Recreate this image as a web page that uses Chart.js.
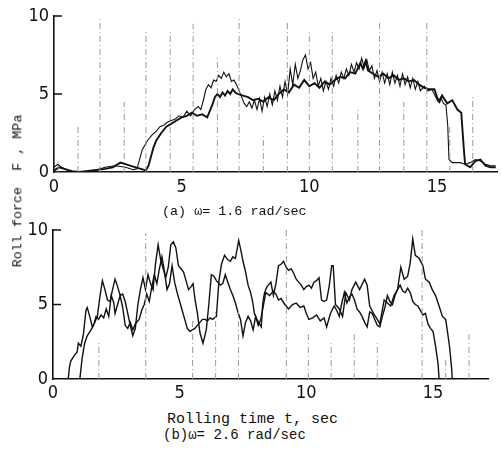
<!DOCTYPE html>
<html>
<head>
<meta charset="utf-8">
<script src="https://cdn.jsdelivr.net/npm/chart.js@4.4.1/dist/chart.umd.min.js"></script>
<style>
  body { margin: 0; background: #fff; }
  #wrap { position: relative; width: 501px; height: 454px; overflow: hidden; background: #fff; }
  canvas { position: absolute; left: 0; }
  .txt { position: absolute; font-family: "Liberation Mono", "DejaVu Sans Mono", monospace; color: #111; white-space: pre; line-height: 1; }
</style>
</head>
<body>
<div id="wrap">
  <canvas id="topChart" width="501" height="200" style="top:0"></canvas>
  <canvas id="bottomChart" width="501" height="210" style="top:200px"></canvas>
  <div class="txt" id="ytitle" style="font-size:13.4px; left:18px; top:191px; transform: translate(-50%, -50%) rotate(-90deg);">Roll force  F , MPa</div>
  <div class="txt" style="font-size:13.4px; left:162px; top:205px;">(a) ω= 1.6 rad/sec</div>
  <div class="txt" style="font-size:15px; left:167px; top:412px;">Rolling time t, sec</div>
  <div class="txt" style="font-size:14px; left:163px; top:428px;">(b)ω= 2.6 rad/sec</div>
</div>
<script>
// Tick labels
const xTicks = [0, 5, 10, 15];
const yTicks = [0, 5, 10];

// (a) omega = 1.6 rad/sec : thick trace
const topTimeA = [0, 0.2, 0.4, 0.7, 1.0, 1.5, 2.0, 2.3, 2.6, 2.8, 3.1, 3.4, 3.6, 3.7, 3.8, 3.9, 4.0, 4.2, 4.4, 4.6, 4.8, 5.0, 5.2, 5.4, 5.6, 5.8, 6.0, 6.1, 6.2, 6.3, 6.4, 6.5, 6.6, 6.7, 6.8, 6.9, 7.0, 7.1, 7.2, 7.4, 7.6, 7.8, 8.0, 8.2, 8.4, 8.6, 8.8, 9.0, 9.2, 9.4, 9.6, 9.8, 10.0, 10.2, 10.4, 10.6, 10.8, 11.0, 11.2, 11.4, 11.6, 11.8, 12.0, 12.1, 12.2, 12.3, 12.5, 12.7, 12.9, 13.1, 13.3, 13.5, 13.7, 13.9, 14.1, 14.3, 14.5, 14.7, 14.9, 15.0, 15.1, 15.2, 15.4, 15.6, 15.8, 15.95, 16.05, 16.1, 16.3, 16.5, 16.7, 16.9, 17.1, 17.3];
const topForceA = [0.1, 0.3, 0.2, 0.05, 0, 0.1, 0.2, 0.3, 0.6, 0.5, 0.35, 0.2, 0.1, 0.4, 1.0, 1.6, 2.0, 2.5, 2.9, 3.1, 3.3, 3.5, 3.6, 3.8, 3.6, 3.7, 3.5, 3.9, 4.3, 4.8, 5.0, 4.8, 5.1, 4.9, 5.2, 5.0, 5.3, 5.1, 5.0, 4.9, 4.8, 4.6, 4.7, 4.5, 4.8, 4.6, 5.0, 5.3, 5.1, 5.6, 5.4, 5.9, 5.5, 5.7, 5.4, 5.8, 5.6, 5.9, 6.1, 6.0, 6.4, 6.3, 7.0, 6.6, 7.1, 6.5, 6.3, 6.1, 6.3, 6.0, 6.2, 5.9, 6.0, 5.8, 5.9, 5.6, 5.4, 5.3, 5.3, 4.8, 4.5, 4.9, 4.4, 4.6, 4.0, 3.8, 1.5, 0.5, 0.3, 0.7, 0.8, 0.4, 0.3, 0.3];

// (a) omega = 1.6 rad/sec : thin trace
const topTimeB = [0, 0.15, 0.3, 0.5, 0.8, 1.2, 1.6, 2.0, 2.4, 2.8, 3.1, 3.25, 3.35, 3.45, 3.55, 3.7, 3.85, 4.0, 4.15, 4.3, 4.45, 4.6, 4.75, 4.9, 5.05, 5.2, 5.35, 5.5, 5.65, 5.75, 5.85, 5.95, 6.05, 6.15, 6.25, 6.35, 6.45, 6.55, 6.65, 6.75, 6.85, 6.95, 7.05, 7.15, 7.25, 7.35, 7.45, 7.55, 7.65, 7.75, 7.85, 7.95, 8.05, 8.15, 8.25, 8.35, 8.45, 8.55, 8.65, 8.75, 8.85, 8.95, 9.05, 9.15, 9.25, 9.35, 9.45, 9.55, 9.65, 9.75, 9.85, 9.95, 10.05, 10.15, 10.25, 10.35, 10.45, 10.55, 10.65, 10.75, 10.85, 10.95, 11.05, 11.15, 11.25, 11.35, 11.45, 11.55, 11.65, 11.75, 11.85, 11.95, 12.05, 12.15, 12.25, 12.35, 12.45, 12.55, 12.65, 12.75, 12.85, 12.95, 13.05, 13.15, 13.25, 13.35, 13.45, 13.55, 13.65, 13.75, 13.85, 13.95, 14.05, 14.15, 14.25, 14.35, 14.5, 14.65, 14.8, 14.95, 15.05, 15.15, 15.25, 15.35, 15.42, 15.47, 15.6, 15.9, 16.1, 16.3, 16.5, 16.7, 16.9, 17.1, 17.3];
const topForceB = [0.3, 0.5, 0.3, 0.15, 0, 0, 0.1, 0.3, 0.4, 0.3, 0.15, 0.2, 0.8, 1.4, 1.7, 2.1, 2.4, 2.6, 2.9, 3.0, 3.2, 3.3, 3.4, 3.6, 3.5, 3.9, 3.6, 4.0, 4.2, 4.0, 4.6, 5.3, 5.6, 5.4, 5.9, 5.8, 6.2, 6.0, 6.4, 6.1, 6.3, 5.8, 5.9, 5.6, 5.2, 4.8, 4.4, 4.2, 4.5, 4.1, 4.6, 4.0, 4.7, 3.9, 4.8, 4.2, 5.0, 4.3, 5.2, 4.6, 5.5, 4.8, 5.8, 5.0, 6.6, 5.6, 6.9, 6.0, 6.5, 7.2, 7.5, 6.6, 7.0, 6.0, 6.4, 5.5, 6.0, 5.2, 5.8, 5.3, 6.0, 5.5, 6.2, 5.7, 6.4, 6.0, 6.6, 6.2, 6.9, 6.4, 7.0, 6.6, 7.3, 6.7, 7.2, 6.5, 6.8, 6.0, 6.5, 5.8, 6.4, 5.7, 6.3, 5.6, 6.4, 5.7, 6.2, 5.5, 6.3, 5.6, 6.1, 5.4, 6.0, 5.3, 5.8, 5.2, 5.5, 5.2, 5.3, 4.8, 4.5, 4.8, 4.4, 4.3, 3.0, 0.8, 0.6, 0.6, 0.5, 0.6, 0.8, 0.7, 0.5, 0.4, 0.4];

// (b) omega = 2.6 rad/sec : trace starting first
const botTimeC = [0.6, 0.65, 0.7, 0.85, 0.95, 1.0, 1.1, 1.2, 1.3, 1.35, 1.45, 1.55, 1.65, 1.75, 1.85, 1.95, 2.05, 2.15, 2.25, 2.35, 2.45, 2.55, 2.65, 2.75, 2.85, 2.95, 3.05, 3.15, 3.25, 3.35, 3.45, 3.55, 3.65, 3.75, 3.85, 3.95, 4.05, 4.15, 4.25, 4.35, 4.45, 4.55, 4.65, 4.75, 4.85, 4.95, 5.05, 5.15, 5.25, 5.35, 5.45, 5.53, 5.6, 5.7, 5.8, 5.92, 6.05, 6.15, 6.25, 6.35, 6.45, 6.6, 6.7, 6.8, 6.9, 7.0, 7.1, 7.2, 7.3, 7.4, 7.5, 7.6, 7.7, 7.8, 7.9, 8.0, 8.1, 8.2, 8.28, 8.4, 8.55, 8.7, 8.8, 8.9, 9.0, 9.15, 9.3, 9.45, 9.6, 9.75, 9.9, 10.0, 10.1, 10.25, 10.4, 10.55, 10.7, 10.8, 10.95, 11.1, 11.2, 11.3, 11.4, 11.5, 11.6, 11.7, 11.8, 11.9, 12.0, 12.1, 12.2, 12.3, 12.4, 12.5, 12.6, 12.7, 12.8, 12.9, 13.0, 13.1, 13.2, 13.3, 13.4, 13.5, 13.6, 13.7, 13.8, 13.9, 14.0, 14.1, 14.2, 14.3, 14.4, 14.5, 14.6, 14.7, 14.8, 14.9, 15.0, 15.1, 15.2, 15.24];
const botForceC = [0, 0.8, 1.2, 1.6, 1.8, 2.4, 2.2, 3.0, 4.6, 4.8, 4.2, 3.5, 3.8, 4.2, 5.5, 6.6, 6.0, 5.3, 5.2, 6.0, 6.7, 6.2, 5.6, 5.7, 5.2, 4.4, 3.6, 2.9, 3.4, 5.0, 6.0, 6.8, 6.0, 7.0, 6.4, 6.0, 7.8, 9.0, 8.0, 7.4, 6.8, 7.5, 9.0, 9.2, 8.8, 7.6, 7.4, 7.2, 6.6, 6.0, 6.2, 6.4, 5.4, 4.4, 3.1, 2.4, 3.3, 5.0, 7.0, 6.9, 6.6, 6.3, 6.4, 7.0, 6.5, 6.0, 5.6, 5.1, 4.5, 4.0, 2.9, 3.8, 4.2, 3.9, 3.3, 4.2, 3.6, 4.0, 4.7, 5.8, 5.6, 5.9, 5.7, 5.3, 5.4, 5.0, 4.7, 5.0, 5.1, 4.8, 4.9, 4.4, 4.0, 4.1, 4.3, 3.9, 4.1, 3.5, 4.4, 4.9, 4.6, 4.2, 5.1, 5.8, 5.1, 5.5, 5.7, 5.3, 4.7, 4.5, 4.2, 3.8, 3.5, 4.5, 4.4, 4.0, 3.6, 3.5, 4.2, 4.8, 5.6, 5.2, 5.0, 5.6, 6.0, 6.3, 5.9, 5.8, 6.1, 5.8, 5.2, 5.0, 4.9, 4.6, 4.3, 4.4, 3.7, 3.4, 3.2, 2.2, 1.0, 0];

// (b) omega = 2.6 rad/sec : trace starting second
const botTimeD = [1.06, 1.15, 1.25, 1.35, 1.5, 1.6, 1.7, 1.8, 1.9, 2.0, 2.1, 2.2, 2.3, 2.4, 2.45, 2.55, 2.65, 2.75, 2.85, 2.95, 3.05, 3.15, 3.25, 3.4, 3.5, 3.6, 3.7, 3.8, 3.9, 4.0, 4.1, 4.2, 4.3, 4.4, 4.5, 4.6, 4.7, 4.8, 4.9, 5.0, 5.1, 5.2, 5.3, 5.4, 5.5, 5.6, 5.7, 5.8, 5.9, 6.0, 6.1, 6.2, 6.3, 6.45, 6.55, 6.65, 6.77, 6.9, 7.0, 7.1, 7.2, 7.33, 7.42, 7.5, 7.6, 7.7, 7.8, 7.88, 7.95, 8.05, 8.15, 8.22, 8.28, 8.35, 8.45, 8.6, 8.7, 8.8, 8.9, 9.0, 9.1, 9.2, 9.3, 9.4, 9.5, 9.6, 9.7, 9.8, 9.9, 10.0, 10.1, 10.2, 10.3, 10.4, 10.5, 10.6, 10.7, 10.8, 10.9, 11.0, 11.06, 11.15, 11.3, 11.43, 11.56, 11.7, 11.8, 11.95, 12.1, 12.3, 12.4, 12.5, 12.65, 12.8, 12.9, 13.07, 13.2, 13.33, 13.46, 13.6, 13.73, 13.86, 14.0, 14.1, 14.2, 14.3, 14.45, 14.6, 14.7, 14.85, 14.97, 15.1, 15.2, 15.37, 15.5, 15.56, 15.65, 15.73, 15.76];
const botForceD = [0, 1.4, 2.4, 2.9, 3.3, 3.6, 4.2, 4.0, 4.3, 4.1, 4.7, 4.2, 5.6, 5.1, 4.4, 5.0, 5.6, 4.8, 3.6, 3.4, 3.8, 3.3, 3.7, 4.0, 4.6, 5.0, 5.7, 5.2, 6.2, 7.0, 6.4, 7.4, 8.2, 7.2, 6.0, 6.4, 7.6, 6.5, 5.8, 5.2, 4.6, 4.0, 3.4, 3.2, 3.3, 3.4, 3.6, 3.8, 4.0, 4.0, 3.9, 4.1, 4.0, 4.2, 6.6, 7.7, 8.3, 8.0, 7.9, 8.2, 8.1, 9.3, 8.6, 7.9, 7.2, 6.3, 5.8, 5.2, 4.4, 4.0, 3.7, 3.5, 5.1, 5.8, 6.2, 6.5, 5.6, 6.4, 7.6, 7.7, 7.9, 7.5, 7.3, 7.4, 7.1, 6.7, 6.5, 6.3, 6.0, 6.2, 6.3, 6.1, 6.5, 6.6, 6.8, 5.3, 5.2, 5.3, 6.2, 7.6, 7.6, 5.0, 4.7, 4.2, 5.8, 5.3, 6.0, 6.5, 6.0, 6.7, 6.3, 4.9, 4.4, 4.0, 3.7, 5.3, 5.1, 4.9, 5.6, 6.0, 7.5, 6.7, 6.9, 7.8, 9.4, 8.3, 8.1, 7.6, 6.7, 6.5, 6.0, 5.6, 5.1, 4.2, 4.0, 3.3, 2.2, 0.8, 0];

// faint vertical dash-dot marks of the recorder paper
const markTopT = [0.16, 0.94, 1.8, 2.75, 3.6, 4.55, 5.45, 6.4, 7.25, 8.2, 9.14, 10.0, 10.9, 11.9, 12.75, 13.7, 14.6, 15.5, 16.4];
const markTopH = [0.7, 3.0, 9.8, 4.5, 9.0, 9.0, 9.5, 7.5, 10.0, 2.3, 9.6, 9.0, 9.0, 4.0, 9.6, 4.5, 9.6, 3.0, 5.0];
const markBotT = [1.81, 3.66, 5.51, 6.42, 7.32, 9.21, 10.08, 10.98, 11.89, 12.8, 14.57, 15.5, 16.42];
const markBotH = [2.5, 9.8, 4.0, 4.5, 4.5, 10.0, 3.0, 2.5, 3.0, 2.5, 10.0, 1.5, 3.0];

function toPoints(ts, vs) {
  return ts.map((t, i) => ({ x: t, y: vs[i] }));
}

function markPoints(ts, hs) {
  const pts = [];
  ts.forEach((t, i) => {
    pts.push({ x: t, y: 0 }, { x: t, y: hs[i] }, { x: t, y: null });
  });
  return pts;
}

// short tick marks pointing into the plot, like the original
const inwardTicks = {
  id: 'inwardTicks',
  afterDraw(chart) {
    const y = chart.scales.y;
    const ctx = chart.ctx;
    ctx.save();
    ctx.strokeStyle = '#111';
    ctx.lineWidth = 1.5;
    yTicks.forEach(v => {
      if (v === 0) return;
      const py = y.getPixelForValue(v);
      ctx.beginPath();
      ctx.moveTo(y.right, py);
      ctx.lineTo(y.right + 8, py);
      ctx.stroke();
    });
    ctx.restore();
  }
};

function makeChart(id, opts) {
  const ctx = document.getElementById(id).getContext('2d');
  return new Chart(ctx, {
    type: 'line',
    data: {
      datasets: [
        {
          data: markPoints(opts.markT, opts.markH),
          borderColor: '#9a9a9a',
          borderWidth: 1,
          borderDash: [6, 3, 1, 3],
          pointRadius: 0,
          spanGaps: false
        },
        {
          data: toPoints(opts.t1, opts.v1),
          borderColor: '#111',
          borderWidth: opts.w1,
          pointRadius: 0,
          tension: 0
        },
        {
          data: toPoints(opts.t2, opts.v2),
          borderColor: '#111',
          borderWidth: opts.w2,
          pointRadius: 0,
          tension: 0
        }
      ]
    },
    options: {
      responsive: false,
      animation: false,
      devicePixelRatio: 1,
      layout: { padding: { top: opts.padTop, right: opts.padRight, left: 0, bottom: 0 } },
      plugins: { legend: { display: false }, tooltip: { enabled: false } },
      scales: {
        x: {
          type: 'linear',
          min: 0,
          max: opts.xMax,
          afterFit: s => { s.height = opts.xHeight; },
          afterBuildTicks: s => { s.ticks = xTicks.map(v => ({ value: v })); },
          grid: { display: false, drawTicks: false },
          border: { display: true, color: '#111', width: 1.6 },
          ticks: {
            padding: opts.xPad,
            color: '#111',
            maxRotation: 0,
            font: { family: '"Liberation Sans Narrow", "DejaVu Sans Condensed", sans-serif', size: 18 }
          }
        },
        y: {
          min: 0,
          max: 10,
          afterFit: s => { s.width = opts.yWidth; },
          afterBuildTicks: s => { s.ticks = yTicks.map(v => ({ value: v })); },
          grid: { display: false, drawTicks: false },
          border: { display: true, color: '#111', width: 1.6 },
          ticks: {
            padding: 5,
            color: '#111',
            font: { family: '"Liberation Sans Narrow", "DejaVu Sans Condensed", sans-serif', size: 18 }
          }
        }
      }
    },
    plugins: [inwardTicks]
  });
}

makeChart('topChart', {
  t1: topTimeA, v1: topForceA, w1: 1.9,
  t2: topTimeB, v2: topForceB, w2: 1.1,
  markT: markTopT, markH: markTopH,
  xMax: 17.35, padTop: 16, padRight: 4, xHeight: 28, xPad: 5, yWidth: 54
});

makeChart('bottomChart', {
  t1: botTimeC, v1: botForceC, w1: 1.4,
  t2: botTimeD, v2: botForceD, w2: 1.4,
  markT: markBotT, markH: markBotH,
  xMax: 17.17, padTop: 30, padRight: 13, xHeight: 31, xPad: 4, yWidth: 53
});
</script>
</body>
</html>
